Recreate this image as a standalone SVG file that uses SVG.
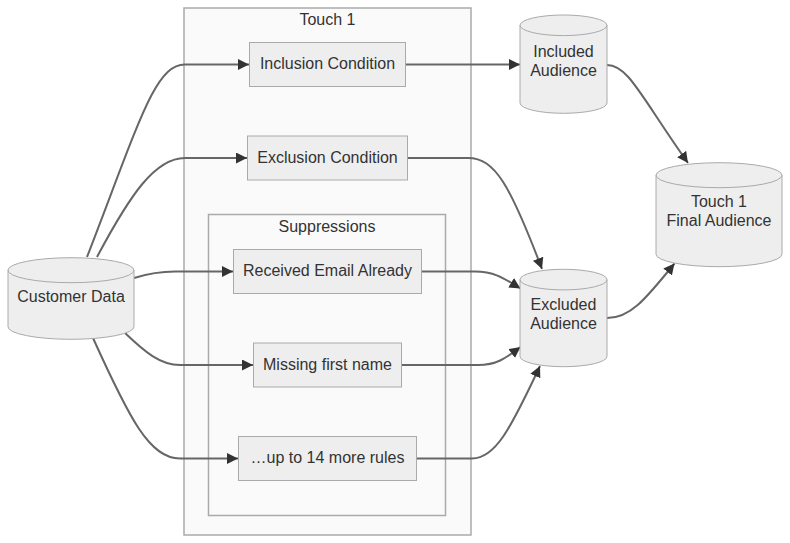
<svg xmlns="http://www.w3.org/2000/svg" width="790" height="543" viewBox="0 0 790 543">
<style>
text{font-family:"Liberation Sans",Arial,sans-serif;font-size:16px;fill:#333;text-anchor:middle}
.cluster{fill:#fafafa;stroke:#aaa;stroke-width:1.5}
.node{fill:#eee;stroke:#aaa;stroke-width:1}
.edge{fill:none;stroke:#666;stroke-width:2}
</style>
<defs>
<marker id="arrow" viewBox="0 0 10 10" refX="10" refY="5" markerUnits="userSpaceOnUse" markerWidth="11" markerHeight="11" orient="auto">
<path d="M0,0 L10,5 L0,10 z" fill="#333"/>
</marker>
</defs>
<rect width="790" height="543" fill="#fff"/>
<g id="cluster-touch1">
<rect class="cluster" x="184" y="8" width="287" height="527"/>
<text x="327.5" y="25">Touch 1</text>
</g>
<g id="cluster-suppressions">
<rect class="cluster" x="208.5" y="214.5" width="237" height="301"/>
<text x="327" y="232">Suppressions</text>
</g>
<g id="edges">
<path class="edge" marker-end="url(#arrow)" d="M87,257 C140,120 155,64.5 185,64.5 L249,64.5"/>
<path class="edge" marker-end="url(#arrow)" d="M97,257 C130,195 155,158 185,158 L247,158"/>
<path class="edge" marker-end="url(#arrow)" d="M134,278 C150,273 160,271.5 175,271.5 L233,271.5"/>
<path class="edge" marker-end="url(#arrow)" d="M125,333 C145,352 160,365 180,365 L253,365"/>
<path class="edge" marker-end="url(#arrow)" d="M93,338 C130,420 150,458.5 180,458.5 L238,458.5"/>
<path class="edge" marker-end="url(#arrow)" d="M405.5,64.5 L520,64.5"/>
<path class="edge" marker-end="url(#arrow)" d="M407.5,158 L468,158 C495,158 510,185 542,269"/>
<path class="edge" marker-end="url(#arrow)" d="M421.5,271.5 L475,271.5 C495,271.5 505,279 520.5,288.5"/>
<path class="edge" marker-end="url(#arrow)" d="M401.5,365 L478,365 C498,365 507,357 520.5,347"/>
<path class="edge" marker-end="url(#arrow)" d="M416.5,458.5 L472,458.5 C495,458.5 510,430 540,366"/>
<path class="edge" marker-end="url(#arrow)" d="M607,65 C628,65 640,95 688,163"/>
<path class="edge" marker-end="url(#arrow)" d="M607,318 C630,318 645,300 674.5,263.5"/>
</g>
<g id="node-customer-data">
<path class="node" d="M8,270.2 a63,12.5 0 0 0 126,0 a63,12.5 0 0 0 -126,0 l0,56.6 a63,12.5 0 0 0 126,0 l0,-56.6"/>
<text x="71" y="302">Customer Data</text>
</g>
<g id="node-inclusion">
<rect class="node" x="249.5" y="42.5" width="156" height="44"/>
<text x="327.5" y="69">Inclusion Condition</text>
</g>
<g id="node-exclusion">
<rect class="node" x="247.5" y="136" width="160" height="44"/>
<text x="327.5" y="162.5">Exclusion Condition</text>
</g>
<g id="node-received">
<rect class="node" x="233.5" y="249.5" width="188" height="44"/>
<text x="327.5" y="276">Received Email Already</text>
</g>
<g id="node-missing">
<rect class="node" x="253.5" y="343" width="148" height="44"/>
<text x="327.5" y="369.5">Missing first name</text>
</g>
<g id="node-more">
<rect class="node" x="238.5" y="436.5" width="178" height="44"/>
<text x="327.5" y="463">…up to 14 more rules</text>
</g>
<g id="node-included-audience">
<path class="node" d="M520,25.3 a43.5,10.3 0 0 0 87,0 a43.5,10.3 0 0 0 -87,0 l0,77.7 a43.5,10.3 0 0 0 87,0 l0,-77.7"/>
<text x="563.5" y="56.5">Included</text>
<text x="563.5" y="75.5">Audience</text>
</g>
<g id="node-excluded-audience">
<path class="node" d="M520,279.6 a43.5,10.3 0 0 0 87,0 a43.5,10.3 0 0 0 -87,0 l0,76.8 a43.5,10.3 0 0 0 87,0 l0,-76.8"/>
<text x="563.5" y="310">Excluded</text>
<text x="563.5" y="329">Audience</text>
</g>
<g id="node-final-audience">
<path class="node" d="M656,175.2 a63,12.5 0 0 0 126,0 a63,12.5 0 0 0 -126,0 l0,79 a63,12.5 0 0 0 126,0 l0,-79"/>
<text x="719" y="206.5">Touch 1</text>
<text x="719" y="225.5">Final Audience</text>
</g>
</svg>
